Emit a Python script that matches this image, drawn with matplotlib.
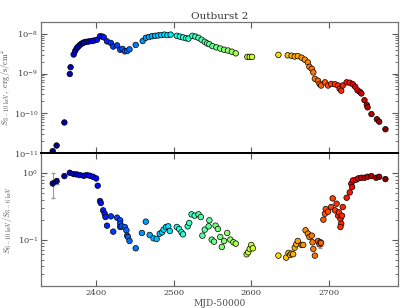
import matplotlib
matplotlib.use("Agg")
import matplotlib.pyplot as plt
import numpy as np

# top panel: 3-10 keV flux (log10 erg/s/cm^2)
mjd_flux = [
    2344, 2349, 2359, 2366, 2367, 2371, 2373, 2375, 2377, 2379, 2381, 2383, 2385,
    2388, 2391, 2394, 2397, 2401, 2405, 2408, 2410, 2414, 2419, 2422, 2427, 2431,
    2434, 2437, 2440, 2443, 2451, 2460, 2464, 2468, 2472, 2476, 2480, 2484, 2488,
    2492, 2496, 2504, 2508, 2512, 2516, 2519, 2524, 2528, 2532, 2536, 2540, 2543,
    2546, 2550, 2555, 2560, 2565, 2570, 2575, 2580, 2595, 2598, 2601, 2635, 2647,
    2652, 2656, 2660, 2665, 2669, 2673, 2675, 2678, 2680, 2682, 2686, 2688, 2690,
    2695, 2699, 2703, 2708, 2712, 2714, 2716, 2718, 2723, 2727, 2731, 2734, 2737,
    2740, 2742, 2746, 2749, 2750, 2755, 2762, 2765, 2773,
]
log_flux = [
    -10.95, -10.81, -10.23, -9.01, -8.84, -8.52, -8.43, -8.36, -8.32, -8.28, -8.25,
    -8.23, -8.21, -8.20, -8.19, -8.18, -8.17, -8.15, -8.06, -8.07, -8.09, -8.19,
    -8.23, -8.32, -8.29, -8.40, -8.38, -8.44, -8.43, -8.39, -8.28, -8.18, -8.10,
    -8.08, -8.06, -8.05, -8.04, -8.03, -8.02, -8.03, -8.02, -8.05, -8.07, -8.09,
    -8.11, -8.12, -8.05, -8.07, -8.10, -8.15, -8.20, -8.24, -8.26, -8.31, -8.34,
    -8.37, -8.40, -8.42, -8.45, -8.49, -8.58, -8.58, -8.58, -8.53, -8.54, -8.55,
    -8.57, -8.56, -8.60, -8.65, -8.72, -8.83, -8.88, -8.97, -9.13, -9.18, -9.26,
    -9.30, -9.22, -9.30, -9.26, -9.27, -9.30, -9.38, -9.43, -9.30, -9.22, -9.23,
    -9.27, -9.33, -9.42, -9.46, -9.50, -9.67, -9.79, -9.85, -10.02, -10.15,
    -10.21, -10.40,
]

# bottom panel: hardness ratio S(6-10)/S(3-6) (log10)
mjd_hr = [
    2344, 2349, 2359, 2366, 2371, 2375, 2379, 2384, 2388, 2392, 2396, 2400, 2402,
    2405, 2406, 2409, 2411, 2412, 2414, 2419, 2422, 2427, 2431, 2431, 2431, 2433,
    2437, 2439, 2440, 2441, 2443, 2451, 2459, 2464, 2469, 2474, 2478, 2482, 2485,
    2487, 2490, 2493, 2495, 2504, 2507, 2510, 2512, 2518, 2520, 2523, 2527, 2532,
    2535, 2537, 2540, 2545, 2546, 2549, 2552, 2554, 2557, 2560, 2562, 2565, 2569,
    2573, 2577, 2580, 2594, 2596, 2598, 2600, 2602, 2635, 2645, 2648, 2650, 2652,
    2654, 2656, 2658, 2660, 2665, 2667, 2670, 2673, 2675, 2678, 2679, 2680, 2682,
    2686, 2688, 2689, 2690, 2693, 2695, 2696, 2699, 2703, 2705, 2708, 2710, 2712,
    2713, 2715, 2716, 2715, 2717, 2718, 2723, 2727, 2729, 2730, 2731, 2735, 2738,
    2742, 2746, 2750, 2755, 2761, 2765, 2773,
]
log_hr = [
    -0.156, -0.121, -0.045, 0.005, -0.015, -0.02, -0.03, -0.04, -0.03, -0.04,
    -0.055, -0.08, -0.19, -0.42, -0.45, -0.56, -0.61, -0.66, -0.79, -0.65, -0.88,
    -0.67, -0.71, -0.76, -0.81, -0.80, -0.81, -0.86, -0.94, -0.96, -1.02, -1.13,
    -0.90, -0.73, -0.93, -0.98, -0.99, -0.91, -0.89, -0.85, -0.81, -0.80, -0.87,
    -0.81, -0.84, -0.89, -0.92, -0.80, -0.75, -0.62, -0.64, -0.62, -0.66, -0.94,
    -0.85, -0.80, -0.71, -1.00, -1.03, -0.79, -0.84, -0.96, -1.11, -1.02, -0.90,
    -1.00, -1.04, -1.06, -1.22, -1.19, -1.14, -1.08, -1.13, -1.24, -1.27, -1.20,
    -1.23, -1.21, -1.22, -1.12, -1.07, -1.02, -1.08, -1.08, -0.86, -0.91, -0.96,
    -0.94, -1.04, -1.14, -1.24, -1.02, -1.07, -1.04, -1.05, -0.70, -0.61, -0.54,
    -0.58, -0.51, -0.38, -0.56, -0.46, -0.64, -0.59, -0.69, -0.76, -0.81, -0.64,
    -0.51, -0.37, -0.29, -0.16, -0.21, -0.11, -0.10, -0.08, -0.07, -0.07, -0.055,
    -0.045, -0.07, -0.055, -0.09,
]

# points with visible error bars in the ratio panel
err_mjd = [2344, 2349, 2688, 2690]
err_val = [0.70, 0.76, 0.085, 0.089]
err_lo = [0.42, 0.68, 0.076, 0.079]
err_hi = [0.99, 0.85, 0.095, 0.099]

plt.rcParams["font.family"] = "DejaVu Serif"
plt.rcParams["mathtext.fontset"] = "cm"

flux = 10 ** np.array(log_flux)
hr = 10 ** np.array(log_hr)
norm = plt.Normalize(min(mjd_flux), max(mjd_flux))
cmap = plt.get_cmap("jet")

fig = plt.figure(figsize=(4.11, 3.08), dpi=100)
ax1 = fig.add_axes([0.1, 0.503, 0.868, 0.426])
ax2 = fig.add_axes([0.1, 0.071, 0.868, 0.432], sharex=ax1)

yerr = [np.array(err_val) - np.array(err_lo), np.array(err_hi) - np.array(err_val)]
ax2.errorbar(err_mjd, err_val, yerr=yerr, fmt="none", ecolor="0.6",
             elinewidth=0.8, capsize=1.5, zorder=1)

ax1.scatter(mjd_flux, flux, c=mjd_flux, cmap=cmap, norm=norm, s=16,
            edgecolors="black", linewidths=0.5, zorder=3)
ax2.scatter(mjd_hr, hr, c=mjd_hr, cmap=cmap, norm=norm, s=16,
            edgecolors="black", linewidths=0.5, zorder=3)

for ax in (ax1, ax2):
    ax.set_yscale("log")
    ax.tick_params(which="both", direction="in", top=True, right=True,
                   labelsize=6, colors="0.35", labelcolor="0.25", pad=2)
    ax.tick_params(which="major", length=4)
    ax.tick_params(which="minor", length=2)
    for sp in ax.spines.values():
        sp.set_color("0.45")
        sp.set_linewidth(0.9)

ax1.set_xlim(2329, 2789)
ax1.set_ylim(1e-11, 2e-8)
ax2.set_ylim(0.02, 2)
ax1.set_xticks([2400, 2500, 2600, 2700])
ax1.tick_params(labelbottom=False)
ax1.spines["bottom"].set_color("black")
ax1.spines["bottom"].set_linewidth(1.4)
ax2.spines["top"].set_color("black")
ax2.spines["top"].set_linewidth(1.4)

ax1.set_title("Outburst 2", fontsize=7.5, color="0.2", pad=2)
ax1.set_ylabel(r"$S_{3-10\ \rm keV},\ \rm erg/s/cm^2$", fontsize=6, color="0.3")
ax2.set_ylabel(r"$S_{6-10\ \rm keV}/S_{3-6\ \rm keV}$", fontsize=6, color="0.3")
ax2.set_xlabel("MJD-50000", fontsize=6.5, color="0.3")
ax1.yaxis.set_label_coords(-0.076, 0.5)
ax2.yaxis.set_label_coords(-0.076, 0.5)
ax2.xaxis.set_label_coords(0.5, -0.095)

fig.savefig("out.png", dpi=100)
